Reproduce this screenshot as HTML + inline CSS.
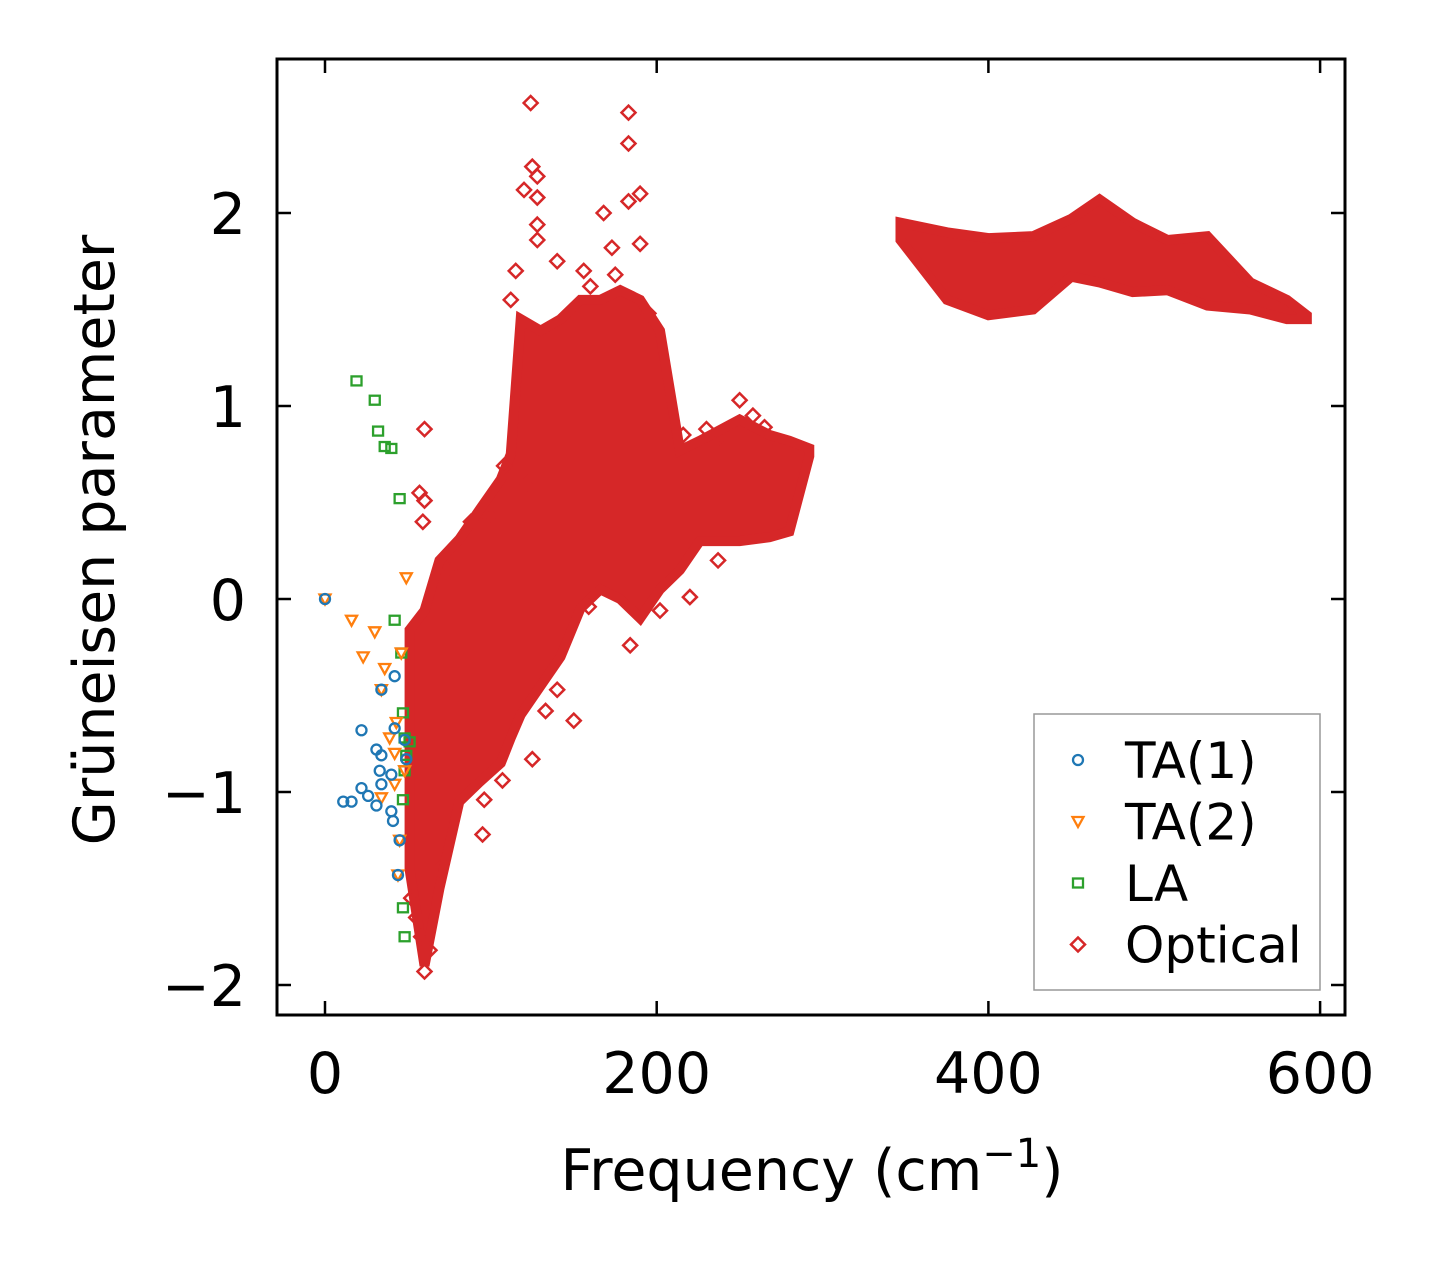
<!DOCTYPE html>
<html><head><meta charset="utf-8"><style>
body{margin:0;background:#fff;}
svg{display:block;font-family:"DejaVu Sans","Liberation Sans",sans-serif;}
</style></head><body>
<svg id="chart" width="1435" height="1264" viewBox="0 0 1435 1264" xmlns="http://www.w3.org/2000/svg">
<rect x="0" y="0" width="1435" height="1264" fill="#fff"/>
<g id="plot"></g>
<g id="axes"></g>
<g id="legend"></g>
</svg>
<script>
const xTicks = [0, 200, 400, 600];
const yTicks = [-2, -1, 0, 1, 2];
const yTickLabels = ["\u22122", "\u22121", "0", "1", "2"];

// dense optical cloud (low-frequency region): freq, lower and upper gamma envelopes
const cloudFreq = [51, 60, 69, 81, 93, 106, 112, 118, 130, 142, 154, 166, 178, 190, 202, 214, 226, 250, 268, 280, 292];
const cloudUpper = [-0.16, -0.06, 0.20, 0.31, 0.46, 0.62, 0.75, 1.45, 1.39, 1.45, 1.55, 1.55, 1.60, 1.55, 1.39, 0.77, 0.82, 0.93, 0.85, 0.82, 0.78];
const cloudLower = [-1.40, -1.90, -1.50, -1.05, -0.95, -0.85, -0.72, -0.60, -0.45, -0.30, -0.05, 0.05, 0.00, -0.10, 0.05, 0.15, 0.30, 0.30, 0.32, 0.35, 0.74];

// dense optical band (high-frequency region)
const bandFreq = [347, 375, 400, 427, 450, 467, 487, 508, 532, 558, 580, 592];
const bandUpper = [1.95, 1.90, 1.87, 1.88, 1.97, 2.07, 1.95, 1.86, 1.88, 1.64, 1.55, 1.47];
const bandLower = [1.86, 1.55, 1.47, 1.50, 1.67, 1.64, 1.59, 1.60, 1.52, 1.50, 1.45, 1.45];

// scattered optical points
const optFreq = [124, 183, 183, 125, 128, 120, 128, 190, 183, 168, 128, 128, 173, 190, 140, 156, 60, 57, 60, 59, 250, 238, 216, 265, 108, 122, 95, 96, 107, 125, 150, 133, 140, 220, 237, 184, 202, 159, 60, 63, 69, 52, 55, 58, 115, 112, 100, 88, 75, 160, 175, 195, 205, 230, 258, 275];
const optGamma = [2.57, 2.52, 2.36, 2.24, 2.19, 2.12, 2.08, 2.10, 2.06, 2.00, 1.94, 1.86, 1.82, 1.84, 1.75, 1.70, 0.88, 0.55, 0.51, 0.40, 1.03, 0.84, 0.85, 0.89, 0.69, 0.60, -1.22, -1.04, -0.94, -0.83, -0.63, -0.58, -0.47, 0.01, 0.20, -0.24, -0.06, -0.04, -1.93, -1.82, -1.40, -1.55, -1.65, -1.75, 1.70, 1.55, 0.42, 0.40, 0.15, 1.62, 1.68, 1.48, 0.60, 0.88, 0.95, 0.80];

const ta1Freq = [0, 34, 42, 22, 31, 34, 33, 40, 49, 48, 22, 26, 31, 11, 16, 34, 40, 41, 45, 44, 42];
const ta1Gamma = [0, -0.47, -0.40, -0.68, -0.78, -0.81, -0.89, -0.91, -0.83, -0.73, -0.98, -1.02, -1.07, -1.05, -1.05, -0.96, -1.10, -1.15, -1.25, -1.43, -0.67];
const ta2Freq = [0, 16, 30, 23, 36, 46, 49, 34, 39, 43, 42, 34, 42, 45, 44, 48];
const ta2Gamma = [0, -0.11, -0.17, -0.30, -0.36, -0.28, 0.11, -0.47, -0.72, -0.64, -0.80, -1.03, -0.96, -1.25, -1.43, -0.89];
const laFreq = [19, 30, 32, 36, 40, 45, 42, 46, 47, 48, 51, 48, 47, 47, 48, 49];
const laGamma = [1.13, 1.03, 0.87, 0.79, 0.78, 0.52, -0.11, -0.28, -0.59, -0.72, -0.74, -0.89, -1.04, -1.60, -1.75, -0.81];

const legendLabels = ["TA(1)", "TA(2)", "LA", "Optical"];

const NS = "http://www.w3.org/2000/svg";
const L = 277, R = 1345, T = 59, B = 1015;
function xs(f){ return 325 + f * (331.7 / 200); }
function ys(g){ return 599 - g * 193; }
function mk(tag, attrs, parent){
  const e = document.createElementNS(NS, tag);
  for (const k in attrs) e.setAttribute(k, attrs[k]);
  parent.appendChild(e);
  return e;
}
const plot = document.getElementById('plot');
const axes = document.getElementById('axes');
const legend = document.getElementById('legend');
const RED = "#d62728", BLUE = "#1f77b4", ORANGE = "#ff7f0e", GREEN = "#2ca02c";

function envelope(fr, lo, hi, name){
  let pts = [];
  for (let i = 0; i < fr.length; i++) pts.push(xs(fr[i]) + "," + ys(hi[i]));
  for (let i = fr.length - 1; i >= 0; i--) pts.push(xs(fr[i]) + "," + ys(lo[i]));
  const p = mk('polygon', {points: pts.join(' '), fill: RED, stroke: RED, 'stroke-width': 10, 'stroke-linejoin': 'miter'}, plot);
  
  
}
envelope(cloudFreq, cloudLower, cloudUpper, 'optical-dense-cloud');
envelope(bandFreq, bandLower, bandUpper, 'optical-dense-band');

function diamond(cx, cy, parent, col){
  const s = 7;
  return mk('polygon', {points: `${cx},${cy-s} ${cx+s},${cy} ${cx},${cy+s} ${cx-s},${cy}`, fill: 'none', stroke: col, 'stroke-width': 2.5}, parent);
}
function circle(cx, cy, parent, col){ return mk('circle', {cx: cx, cy: cy, r: 5, fill: 'none', stroke: col, 'stroke-width': 2.3}, parent); }
function tri(cx, cy, parent, col){
  return mk('polygon', {points: `${cx-5.5},${cy-4.5} ${cx+5.5},${cy-4.5} ${cx},${cy+5.5}`, fill: 'none', stroke: col, 'stroke-width': 2.3}, parent);
}
function square(cx, cy, parent, col){ return mk('rect', {x: cx-5, y: cy-4.5, width: 10, height: 9, fill: 'none', stroke: col, 'stroke-width': 2.3}, parent); }

for (let i = 0; i < optFreq.length; i++){
  const d = diamond(xs(optFreq[i]), ys(optGamma[i]), plot, RED);
  
  
}
for (let i = 0; i < laFreq.length; i++){
  const d = square(xs(laFreq[i]), ys(laGamma[i]), plot, GREEN);
  
  
}
for (let i = 0; i < ta2Freq.length; i++){
  const d = tri(xs(ta2Freq[i]), ys(ta2Gamma[i]), plot, ORANGE);
  
  
}
for (let i = 0; i < ta1Freq.length; i++){
  const d = circle(xs(ta1Freq[i]), ys(ta1Gamma[i]), plot, BLUE);
  
  
}

// axes frame
const frame = mk('rect', {x: L, y: T, width: R-L, height: B-T, fill: 'none', stroke: '#000', 'stroke-width': 3}, axes);


xTicks.forEach(v => {
  const x = xs(v);
  mk('line', {x1: x, y1: B, x2: x, y2: B-14, stroke: '#000', 'stroke-width': 2.5}, axes);
  mk('line', {x1: x, y1: T, x2: x, y2: T+14, stroke: '#000', 'stroke-width': 2.5}, axes);
  const t = mk('text', {x: x, y: 1093, 'text-anchor': 'middle', 'font-size': 57, fill: '#000'}, axes);
  t.textContent = String(v);
  
  
});
yTicks.forEach((v, i) => {
  const y = ys(v);
  mk('line', {x1: L, y1: y, x2: L+14, y2: y, stroke: '#000', 'stroke-width': 2.5}, axes);
  mk('line', {x1: R, y1: y, x2: R-14, y2: y, stroke: '#000', 'stroke-width': 2.5}, axes);
  const t = mk('text', {x: 246, y: y + 21, 'text-anchor': 'end', 'font-size': 57, fill: '#000'}, axes);
  t.textContent = yTickLabels[i];
  
  
});
const xl = mk('text', {x: 812, y: 1190, 'text-anchor': 'middle', 'font-size': 57, fill: '#000'}, axes);
xl.innerHTML = 'Frequency (cm<tspan baseline-shift="super" font-size="40">\u22121</tspan>)';


const yl = mk('text', {x: 0, y: 0, 'text-anchor': 'middle', 'font-size': 57, fill: '#000', transform: 'translate(114,540) rotate(-90)'}, axes);
yl.textContent = 'Grüneisen parameter';



// legend
const lb = mk('rect', {x: 1034, y: 714, width: 286, height: 276, fill: '#fff', stroke: '#999', 'stroke-width': 1.5}, legend);


const drawers = [[circle, BLUE], [tri, ORANGE], [square, GREEN], [diamond, RED]];
legendLabels.forEach((lab, i) => {
  const cy = 760 + i * 61.5;
  const g = mk('g', {}, legend);
  
  
  drawers[i][0](1078, cy, g, drawers[i][1]);
  const t = mk('text', {x: 1125, y: cy + 18, 'font-size': 50, fill: '#000'}, g);
  t.textContent = lab;
});
</script>
</body></html>
